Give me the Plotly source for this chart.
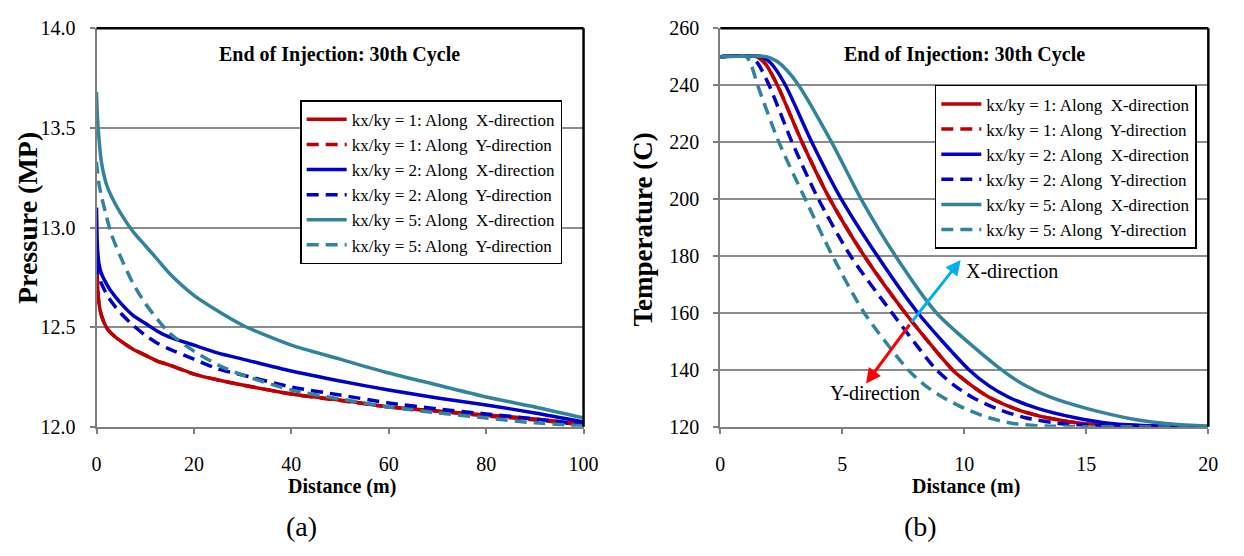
import plotly.graph_objects as go

# ---------------- Data: (a) Pressure ----------------
p_x = [0, 0.2, 0.5, 1, 2, 3, 5, 7.5, 10, 12.5, 15, 20, 25, 30, 40, 50, 60, 70, 80, 90, 100]
p_k1_x = [12.88, 12.72, 12.62, 12.56, 12.50, 12.47, 12.43, 12.39, 12.36, 12.33, 12.31, 12.265, 12.235, 12.21, 12.165, 12.135, 12.10, 12.08, 12.06, 12.04, 12.015]
p_k1_y = [12.87, 12.72, 12.62, 12.56, 12.50, 12.47, 12.43, 12.39, 12.36, 12.33, 12.31, 12.265, 12.235, 12.21, 12.165, 12.132, 12.10, 12.078, 12.055, 12.035, 12.01]
p_k2_x = [13.10, 12.90, 12.82, 12.77, 12.72, 12.68, 12.62, 12.56, 12.52, 12.48, 12.45, 12.41, 12.37, 12.34, 12.28, 12.23, 12.185, 12.145, 12.11, 12.07, 12.025]
p_k2_y = [12.92, 12.82, 12.76, 12.72, 12.67, 12.63, 12.57, 12.51, 12.46, 12.42, 12.39, 12.34, 12.29, 12.26, 12.20, 12.16, 12.12, 12.09, 12.065, 12.04, 12.01]
p_k5_x = [13.68, 13.55, 13.45, 13.33, 13.22, 13.16, 13.07, 12.98, 12.91, 12.84, 12.77, 12.66, 12.58, 12.51, 12.41, 12.34, 12.27, 12.21, 12.15, 12.10, 12.045]
p_k5_y = [13.33, 13.28, 13.22, 13.16, 13.06, 12.97, 12.85, 12.72, 12.62, 12.54, 12.47, 12.38, 12.31, 12.26, 12.185, 12.14, 12.10, 12.07, 12.045, 12.02, 12.005]

# ---------------- Data: (b) Temperature ----------------
t_k1_x_d = [0, 1.5, 1.85, 2.34, 3.35, 4.49, 5.9, 7.58, 9.52, 10.3, 11.0, 12.2, 13.5, 15.0, 17.0, 20]
t_k1_x_v = [250, 250, 247.5, 240, 220, 200, 180, 160, 140, 134.5, 130.5, 126, 123, 121, 120.2, 120]
t_k1_y_d = [0, 1.5, 1.85, 2.34, 3.35, 4.49, 5.9, 7.58, 9.52, 10.3, 11.0, 12.2, 13.5, 15.0, 17.0, 20]
t_k1_y_v = [250, 250, 247.5, 240, 220, 200, 180, 160, 140, 134.5, 130.5, 126, 123, 121, 120.2, 120]
t_k2_x_d = [0, 1.7, 2.1, 2.67, 3.75, 4.96, 6.44, 8.1, 10.2, 11.0, 11.8, 13.0, 14.5, 16.0, 18.0, 20]
t_k2_x_v = [250, 250, 247.5, 240, 220, 200, 180, 160, 140, 134.5, 130.5, 126.5, 123.3, 121.2, 120.3, 120]
t_k2_y_d = [0, 1.26, 1.55, 2.0, 2.94, 4.02, 5.34, 7.04, 8.86, 9.6, 10.3, 11.3, 12.5, 14.1, 16.5, 20]
t_k2_y_v = [250, 250, 247.5, 240, 220, 200, 180, 160, 140, 134.5, 130.5, 126.5, 123.2, 121, 120.2, 120]
t_k5_x_d = [0, 1.9, 2.3, 2.7, 3.21, 4.56, 5.77, 7.18, 8.86, 11.53, 12.5, 13.5, 15.0, 17.0, 18.5, 20]
t_k5_x_v = [250, 250, 248.5, 245.5, 240, 220, 200, 180, 160, 140, 134.5, 130.5, 126.5, 122.6, 121, 120.3]
t_k5_y_d = [0, 1.06, 1.25, 1.53, 2.4, 3.48, 4.6, 5.9, 7.7, 8.4, 9.1, 10.0, 11.0, 12.0, 13.3, 20]
t_k5_y_v = [250, 250, 247.5, 240, 220, 200, 180, 160, 140, 134.5, 130.5, 126.5, 123.2, 121.2, 120.3, 120]

names = ["kx/ky = 1: Along\u00a0 X-direction", "kx/ky = 1: Along\u00a0 Y-direction",
         "kx/ky = 2: Along\u00a0 X-direction", "kx/ky = 2: Along\u00a0 Y-direction",
         "kx/ky = 5: Along\u00a0 X-direction", "kx/ky = 5: Along\u00a0 Y-direction"]
colors = ["#C00000", "#C00000", "#0000C8", "#0000C8", "#31849B", "#31849B"]
dashes = ["solid", "12px,7px", "solid", "12px,7px", "solid", "12px,7px"]

p_series = [p_k1_x, p_k1_y, p_k2_x, p_k2_y, p_k5_x, p_k5_y]
t_series = [(t_k1_x_d, t_k1_x_v), (t_k1_y_d, t_k1_y_v), (t_k2_x_d, t_k2_x_v),
            (t_k2_y_d, t_k2_y_v), (t_k5_x_d, t_k5_x_v), (t_k5_y_d, t_k5_y_v)]

FONT = "Liberation Serif"
GRID = "#8c8c8c"
AX = "#7f7f7f"
W, H = 1244, 556

def RX(p):
    return p / W

def RY(p):
    return 1 - p / H

fig = go.Figure()
for i in range(6):
    fig.add_trace(go.Scatter(x=p_x, y=p_series[i], mode="lines", name=names[i],
                             line=dict(color=colors[i], width=3.5, dash=dashes[i], shape="spline", smoothing=0.7),
                             xaxis="x", yaxis="y", legend="legend"))
for i in range(6):
    xs, ys = t_series[i]
    fig.add_trace(go.Scatter(x=xs, y=ys, mode="lines", name=names[i],
                             line=dict(color=colors[i], width=3.5, dash=dashes[i], shape="spline", smoothing=0.7),
                             xaxis="x2", yaxis="y2", legend="legend2"))

axis_common = dict(ticks="outside", ticklen=5, tickwidth=1.5, tickcolor=AX,
                   linecolor=AX, linewidth=2, showline=True, zeroline=False,
                   tickfont=dict(family=FONT, size=20, color="black"))

fig.update_layout(
    autosize=False,
    width=W, height=H, margin=dict(l=0, r=0, t=0, b=0, pad=0),
    paper_bgcolor="white", plot_bgcolor="white",
    showlegend=True,
    xaxis=dict(domain=[RX(93), RX(588)], range=[0, 100], tickvals=[0, 20, 40, 60, 80, 100],
               showgrid=False, anchor="y", ticklabelstandoff=13, **axis_common),
    yaxis=dict(domain=[RY(433), RY(18)], range=[12, 14], tickvals=[12.0, 12.5, 13.0, 13.5, 14.0],
               tickformat=".1f", showgrid=True, gridcolor=GRID, gridwidth=1.5, anchor="x",
               ticklabelstandoff=10, **axis_common),
    xaxis2=dict(domain=[RX(727), RX(1223)], range=[0, 20], tickvals=[0, 5, 10, 15, 20],
                showgrid=False, anchor="y2", ticklabelstandoff=13, **axis_common),
    yaxis2=dict(domain=[RY(433), RY(18)], range=[120, 260], tickvals=list(range(120, 261, 20)),
                showgrid=True, gridcolor=GRID, gridwidth=1.5, anchor="x2",
                ticklabelstandoff=10, **axis_common),
    legend=dict(x=RX(300), y=RY(93), xanchor="left", yanchor="top",
                bordercolor="black", borderwidth=1.5, bgcolor="white",
                font=dict(family=FONT, size=17, color="black"), tracegroupgap=0, itemwidth=40),
    legend2=dict(x=RX(945), y=RY(77), xanchor="left", yanchor="top",
                 bordercolor="black", borderwidth=1.5, bgcolor="white",
                 font=dict(family=FONT, size=17, color="black"), tracegroupgap=0, itemwidth=40),
)

# top / right black frame lines
for xr, yr in (("x domain", "y domain"), ("x2 domain", "y2 domain")):
    fig.add_shape(type="line", xref=xr, yref=yr, x0=0, x1=1, y0=1, y1=1, line=dict(color="black", width=2.5))
    fig.add_shape(type="line", xref=xr, yref=yr, x0=1, x1=1, y0=0, y1=1, line=dict(color="black", width=2.5))

def txt(text, x, y, size, angle=0):
    return dict(text=text, x=RX(x), y=RY(y), xref="paper", yref="paper", showarrow=False,
                xanchor="center", yanchor="middle", textangle=angle,
                font=dict(family=FONT, size=size, color="black"))

ann = []
title = "<b>End of Injection: 30th Cycle</b>"
ann.append(txt(title, 340, 45, 20))
ann.append(txt(title, 975, 45, 20))
ann.append(txt("<b>Pressure (MP)</b>", 23, 216, 28, -90))
ann.append(txt("<b>Temperature (C)</b>", 648, 228, 27, -90))
ann.append(txt("<b>Distance (m)</b>", 343, 495, 20))
ann.append(txt("<b>Distance (m)</b>", 977, 495, 20))
ann.append(txt("(a)", 301, 537, 28))
ann.append(txt("(b)", 930, 537, 28))

# direction arrows in panel (b)
cross_x, cross_y = 7.8, 156.4
ann.append(dict(x=9.85, y=178.6, ax=cross_x, ay=cross_y, xref="x2", yref="y2", axref="x2", ayref="y2",
                showarrow=True, arrowhead=2, arrowsize=1, arrowwidth=3, arrowcolor="#00B0F0", text=""))
ann.append(dict(x=5.97, y=135.2, ax=cross_x, ay=cross_y, xref="x2", yref="y2", axref="x2", ayref="y2",
                showarrow=True, arrowhead=2, arrowsize=1, arrowwidth=3, arrowcolor="#FF0000", text=""))
ann.append(dict(text="X-direction", x=10.0, y=174.6, xref="x2", yref="y2", xanchor="left",
                showarrow=False, font=dict(family=FONT, size=20, color="black")))
ann.append(dict(text="Y-direction", x=6.33, y=131.8, xref="x2", yref="y2", xanchor="center",
                showarrow=False, font=dict(family=FONT, size=20, color="black")))

fig.update_layout(annotations=ann)
fig.write_html("out.html", config={"responsive": False})
